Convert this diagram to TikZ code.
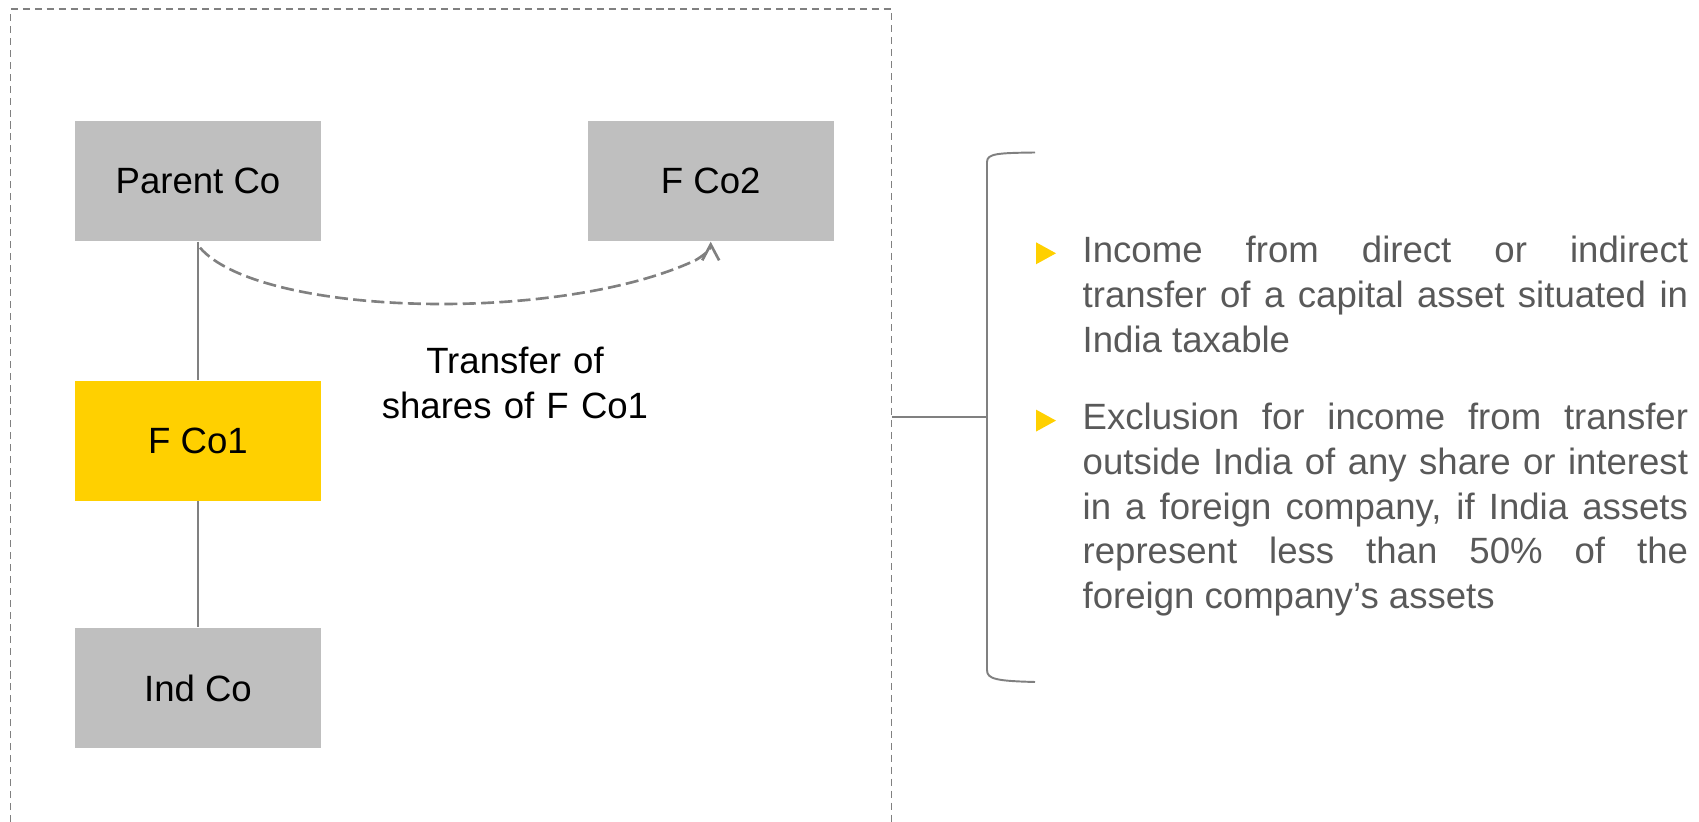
\documentclass[tikz,border=0pt]{standalone}
\usepackage{fontspec}
\setmainfont{Liberation Sans}
\usepackage{tikz}
\usetikzlibrary{positioning, arrows.meta}
\definecolor{boxgray}{HTML}{BFBFBF}
\definecolor{eyyellow}{HTML}{FFD000}
\definecolor{linegray}{HTML}{808080}
\definecolor{textgray}{HTML}{595959}
\hyphenpenalty=10000
\exhyphenpenalty=10000
\tolerance=10000

\begin{document}
\begin{tikzpicture}[
    x=0.01cm, y=-0.01cm,
    node distance=1.38cm and 2.65cm,
    cobox/.style={fill=boxgray, minimum width=2.46cm, minimum height=1.2cm, inner sep=0pt, align=center, font=\fontsize{10.4}{12.5}\selectfont},
    link/.style={draw=linegray, line width=0.55pt},
    xferarrow/.style={draw=linegray, line width=0.75pt, dash pattern=on 3.7pt off 1.5pt, -{Straight Barb[length=4.5pt, width=4.8pt]}},
    outerframe/.style={draw=linegray, line width=0.5pt, dash pattern=on 2pt off 1.4pt},
    lbl/.style={text width=3cm, align=center, inner sep=0pt, font=\fontsize{10.4}{12.6}\selectfont},
    bullettext/.style={text width=6.05cm, align=justify, inner sep=0pt, text=textgray, font=\fontsize{10.4}{12.7}\selectfont}
]
    \useasboundingbox (0,0) rectangle (1699,822);

    % Dashed frame (open at the bottom)
    \draw[outerframe] (10.5,822) |- (891.5,9.3) -- (891.5,822);

    % Companies
    \node[cobox] (parent) at (198,181) {Parent Co};
    \node[cobox, right=of parent] (fco2) {F Co2};
    \node[cobox, fill=eyyellow, below=of parent] (fco1) {F Co1};
    \node[cobox, below=1.26cm of fco1] (indco) {Ind Co};

    % Ownership lines
    \draw[link] (parent) -- (fco1);
    \draw[link] (fco1) -- (indco);

    % Share transfer
    \draw[xferarrow] ([shift={(2,6)}]parent.south) .. controls +(60,69) and +(-136,64) .. (696,260)
        .. controls +(6,-4) and +(0,9) .. (fco2.south);
    \node[lbl, anchor=base] (xfer) at (515,374) {Transfer of\\shares of F Co1};

    % Bracket
    \coordinate (frameR) at (891.5,417);
    \coordinate (brkt) at (987,417);
    \draw[link, line width=0.7pt] (frameR) -- (brkt);
    \draw[link] (1035,152.5) .. controls (998,153) and (987,153.5) .. (987,162) -- (987,670)
        .. controls (987,679) and (996,681) .. (1035,682);

    % Bullets
    \node[bullettext, anchor=base west] (inc) at (1082,262.7) {Income from direct or indirect\linebreak transfer of a capital asset situated in\linebreak India taxable};
    \node[bullettext, anchor=base west] (excl) at (1082,430) {Exclusion for income from transfer\linebreak outside India of any share or interest\linebreak in a foreign company, if India assets\linebreak represent less than 50\% of the\linebreak foreign company’s assets};
    \fill[eyyellow] ([shift={(-46,-20.4)}]inc.base west) -- ++(20,11) -- ++(-20,11) -- cycle;
    \fill[eyyellow] ([shift={(-46,-20.4)}]excl.base west) -- ++(20,11) -- ++(-20,11) -- cycle;
\end{tikzpicture}
\end{document}
